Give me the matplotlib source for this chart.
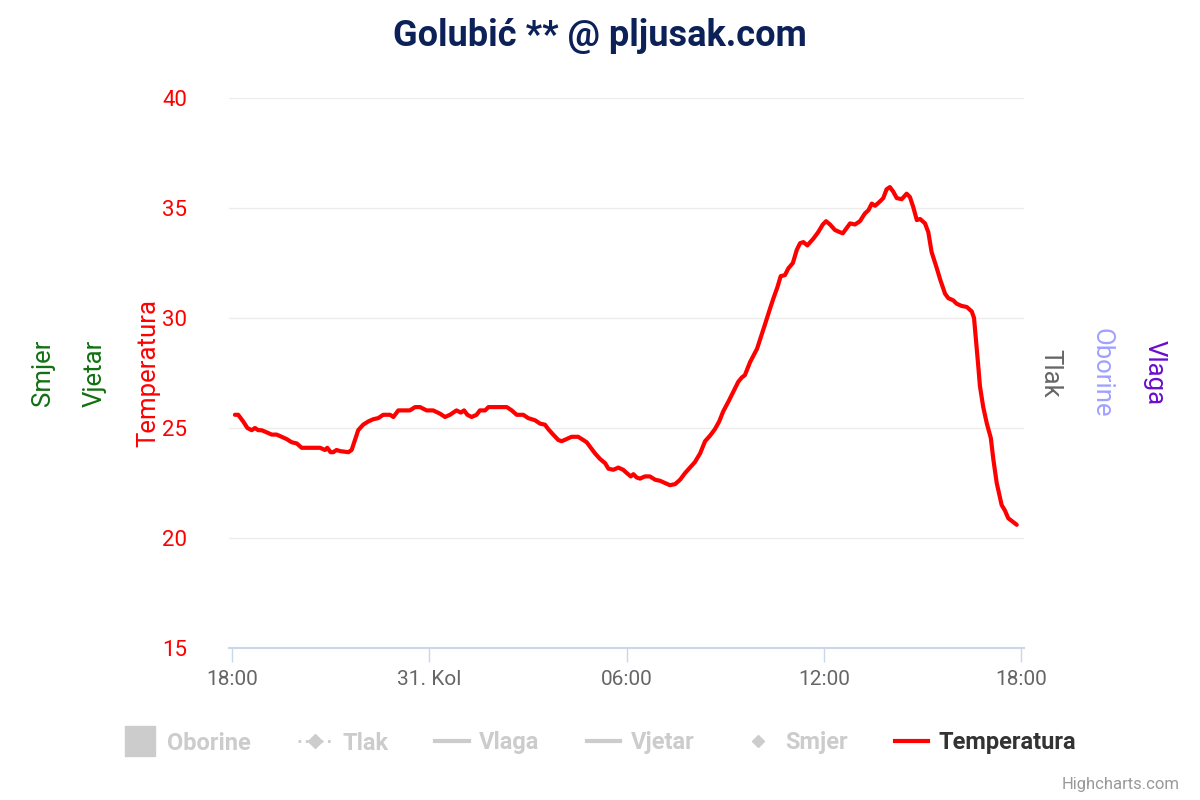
import matplotlib
matplotlib.use("Agg")
import matplotlib.pyplot as plt
from matplotlib.lines import Line2D

# hours since 18:00 (30. Kol) and temperature in C
hours = [0.09, 0.19, 0.34, 0.47, 0.60, 0.70, 0.80, 0.90, 1.06, 1.21, 1.36, 1.51, 1.66,
         1.82, 1.97, 2.12, 2.37, 2.68, 2.83, 2.90, 3.00, 3.08, 3.18, 3.29, 3.54, 3.64,
         3.74, 3.84, 3.99, 4.15, 4.30, 4.45, 4.60, 4.81, 4.91, 5.06, 5.21, 5.41, 5.57,
         5.72, 5.92, 6.12, 6.33, 6.48, 6.63, 6.83, 6.96, 7.06, 7.16, 7.29, 7.44, 7.54,
         7.70, 7.80, 8.36, 8.51, 8.66, 8.86, 9.01, 9.22, 9.37, 9.52, 9.62, 9.77, 9.93,
         10.03, 10.18, 10.33, 10.53, 10.69, 10.79, 10.89, 11.04, 11.19, 11.35, 11.45,
         11.60, 11.75, 11.90, 12.01, 12.13, 12.21, 12.31, 12.41, 12.56, 12.71, 12.87,
         13.02, 13.17, 13.32, 13.48, 13.63, 13.78, 13.93, 14.08, 14.24, 14.39, 14.54,
         14.69, 14.82, 14.94, 15.10, 15.25, 15.40, 15.51, 15.60, 15.76, 15.97, 16.21,
         16.37, 16.47, 16.59, 16.69, 16.82, 16.92, 17.06, 17.18, 17.28, 17.38, 17.50,
         17.68, 17.83, 17.97, 18.07, 18.19, 18.34, 18.49, 18.58, 18.70, 18.80, 18.95,
         19.10, 19.25, 19.36, 19.46, 19.56, 19.71, 19.81, 19.91, 20.01, 20.11, 20.22,
         20.37, 20.52, 20.62, 20.72, 20.83, 20.93, 21.08, 21.18, 21.28, 21.44, 21.54,
         21.69, 21.79, 21.94, 22.04, 22.19, 22.35, 22.50, 22.57, 22.63, 22.70, 22.75,
         22.85, 22.96, 23.08, 23.16, 23.26, 23.41, 23.51, 23.61, 23.87]
temperatura = [25.6, 25.6, 25.3, 25.0, 24.9, 25.0, 24.9, 24.9, 24.8, 24.7, 24.7, 24.6, 24.5,
               24.35, 24.3, 24.1, 24.1, 24.1, 24.0, 24.1, 23.9, 23.9, 24.0, 23.95, 23.9, 24.0,
               24.45, 24.9, 25.15, 25.3, 25.4, 25.45, 25.6, 25.6, 25.5, 25.8, 25.8, 25.8, 25.95,
               25.95, 25.8, 25.8, 25.65, 25.5, 25.6, 25.8, 25.7, 25.8, 25.6, 25.5, 25.6, 25.8,
               25.8, 25.95, 25.95, 25.8, 25.6, 25.6, 25.45, 25.35, 25.2, 25.15, 24.95, 24.7, 24.45,
               24.4, 24.5, 24.6, 24.6, 24.45, 24.35, 24.15, 23.85, 23.6, 23.4, 23.15,
               23.1, 23.2, 23.1, 22.95, 22.8, 22.9, 22.75, 22.7, 22.8, 22.8, 22.65,
               22.6, 22.5, 22.4, 22.45, 22.65, 22.95, 23.2, 23.45, 23.85, 24.4, 24.65,
               24.95, 25.3, 25.75, 26.2, 26.65, 27.1, 27.3, 27.4, 28.0, 28.6, 29.7,
               30.45, 30.9, 31.4, 31.9, 31.95, 32.25, 32.5, 33.1, 33.4, 33.45, 33.3,
               33.6, 33.9, 34.25, 34.4, 34.25, 34.0, 33.9, 33.85, 34.1, 34.3, 34.25,
               34.4, 34.75, 34.9, 35.2, 35.1, 35.3, 35.45, 35.85, 35.95, 35.75, 35.45,
               35.4, 35.65, 35.5, 35.05, 34.45, 34.5, 34.3, 33.9, 33.0, 32.25, 31.75,
               31.1, 30.9, 30.8, 30.65, 30.55, 30.5, 30.3, 30.0, 29.0, 27.8, 26.9,
               25.95, 25.2, 24.55, 23.55, 22.5, 21.5, 21.25, 20.9, 20.6]

x_ticks = [0, 6, 12, 18, 24]
x_labels = ["18:00", "31. Kol", "06:00", "12:00", "18:00"]
y_ticks = [15, 20, 25, 30, 35, 40]

FONT = "Roboto"
plt.rcParams["font.family"] = [FONT, "DejaVu Sans"]

fig = plt.figure(figsize=(12, 8), dpi=100)
ax = fig.add_axes([229 / 1200, 1 - 648 / 800, 795 / 1200, 550 / 800])

ax.plot(hours, temperatura, color="#ff0000", linewidth=3, solid_joinstyle="round",
        solid_capstyle="round", zorder=3)

ax.set_xlim(-0.09, 24.09)
ax.set_ylim(15, 40)
ax.set_yticks(y_ticks)
ax.set_xticks(x_ticks)
ax.set_xticklabels(x_labels)

for v in y_ticks[1:]:
    ax.axhline(v, color="#ececec", linewidth=1, zorder=1)

for side in ["top", "left", "right"]:
    ax.spines[side].set_visible(False)
ax.spines["bottom"].set_color("#ccd6eb")
ax.spines["bottom"].set_linewidth(1.5)

ax.tick_params(axis="y", length=0, pad=30, labelsize=16, labelcolor="#ff0000")
ax.tick_params(axis="x", length=10, width=1, color="#ccd6eb", pad=6,
               labelsize=15, labelcolor="#666666")

fig.text(0.5, 1 - 36 / 800, "Golubić ** @ pljusak.com", ha="center", va="center",
         fontsize=26, fontweight="bold", color="#0d2159")

# axis titles
mid = 1 - 373 / 800
fig.text(148 / 1200, mid, "Temperatura", rotation=90, ha="center", va="center",
         fontsize=18.5, color="#ff0000")
fig.text(95 / 1200, mid, "Vjetar", rotation=90, ha="center", va="center",
         fontsize=18.5, color="#117011")
fig.text(43 / 1200, mid, "Smjer", rotation=90, ha="center", va="center",
         fontsize=18.5, color="#117011")
fig.text(1050 / 1200, mid, "Tlak", rotation=270, ha="center", va="center",
         fontsize=18.5, color="#666666")
fig.text(1102 / 1200, mid, "Oborine", rotation=270, ha="center", va="center",
         fontsize=18.5, color="#a0a0ff")
fig.text(1155 / 1200, mid, "Vlaga", rotation=270, ha="center", va="center",
         fontsize=18.5, color="#6a0dcc")

# legend
grey = "#cccccc"
handles = [
    Line2D([], [], color=grey, linestyle="none", marker="s", markersize=22),
    Line2D([], [], color=grey, linestyle=":", linewidth=2, marker="D", markersize=7),
    Line2D([], [], color=grey, linewidth=3),
    Line2D([], [], color=grey, linewidth=3),
    Line2D([], [], color=grey, linestyle="none", marker="D", markersize=6),
    Line2D([], [], color="#ff0000", linewidth=3),
]
names = ["Oborine", "Tlak", "Vlaga", "Vjetar", "Smjer", "Temperatura"]
leg = fig.legend(handles, names, loc="center", bbox_to_anchor=(0.5, 1 - 743 / 800),
                 ncol=6, frameon=False, handlelength=1.4, handletextpad=0.45,
                 columnspacing=2.0, prop={"size": 17, "weight": "bold"})
for i, t in enumerate(leg.get_texts()):
    t.set_color("#333333" if i == 5 else grey)

fig.text(1180 / 1200, 1 - 784 / 800, "Highcharts.com", ha="right", va="center",
         fontsize=12, color="#999999")

fig.savefig("out.png", dpi=100, facecolor="white")
